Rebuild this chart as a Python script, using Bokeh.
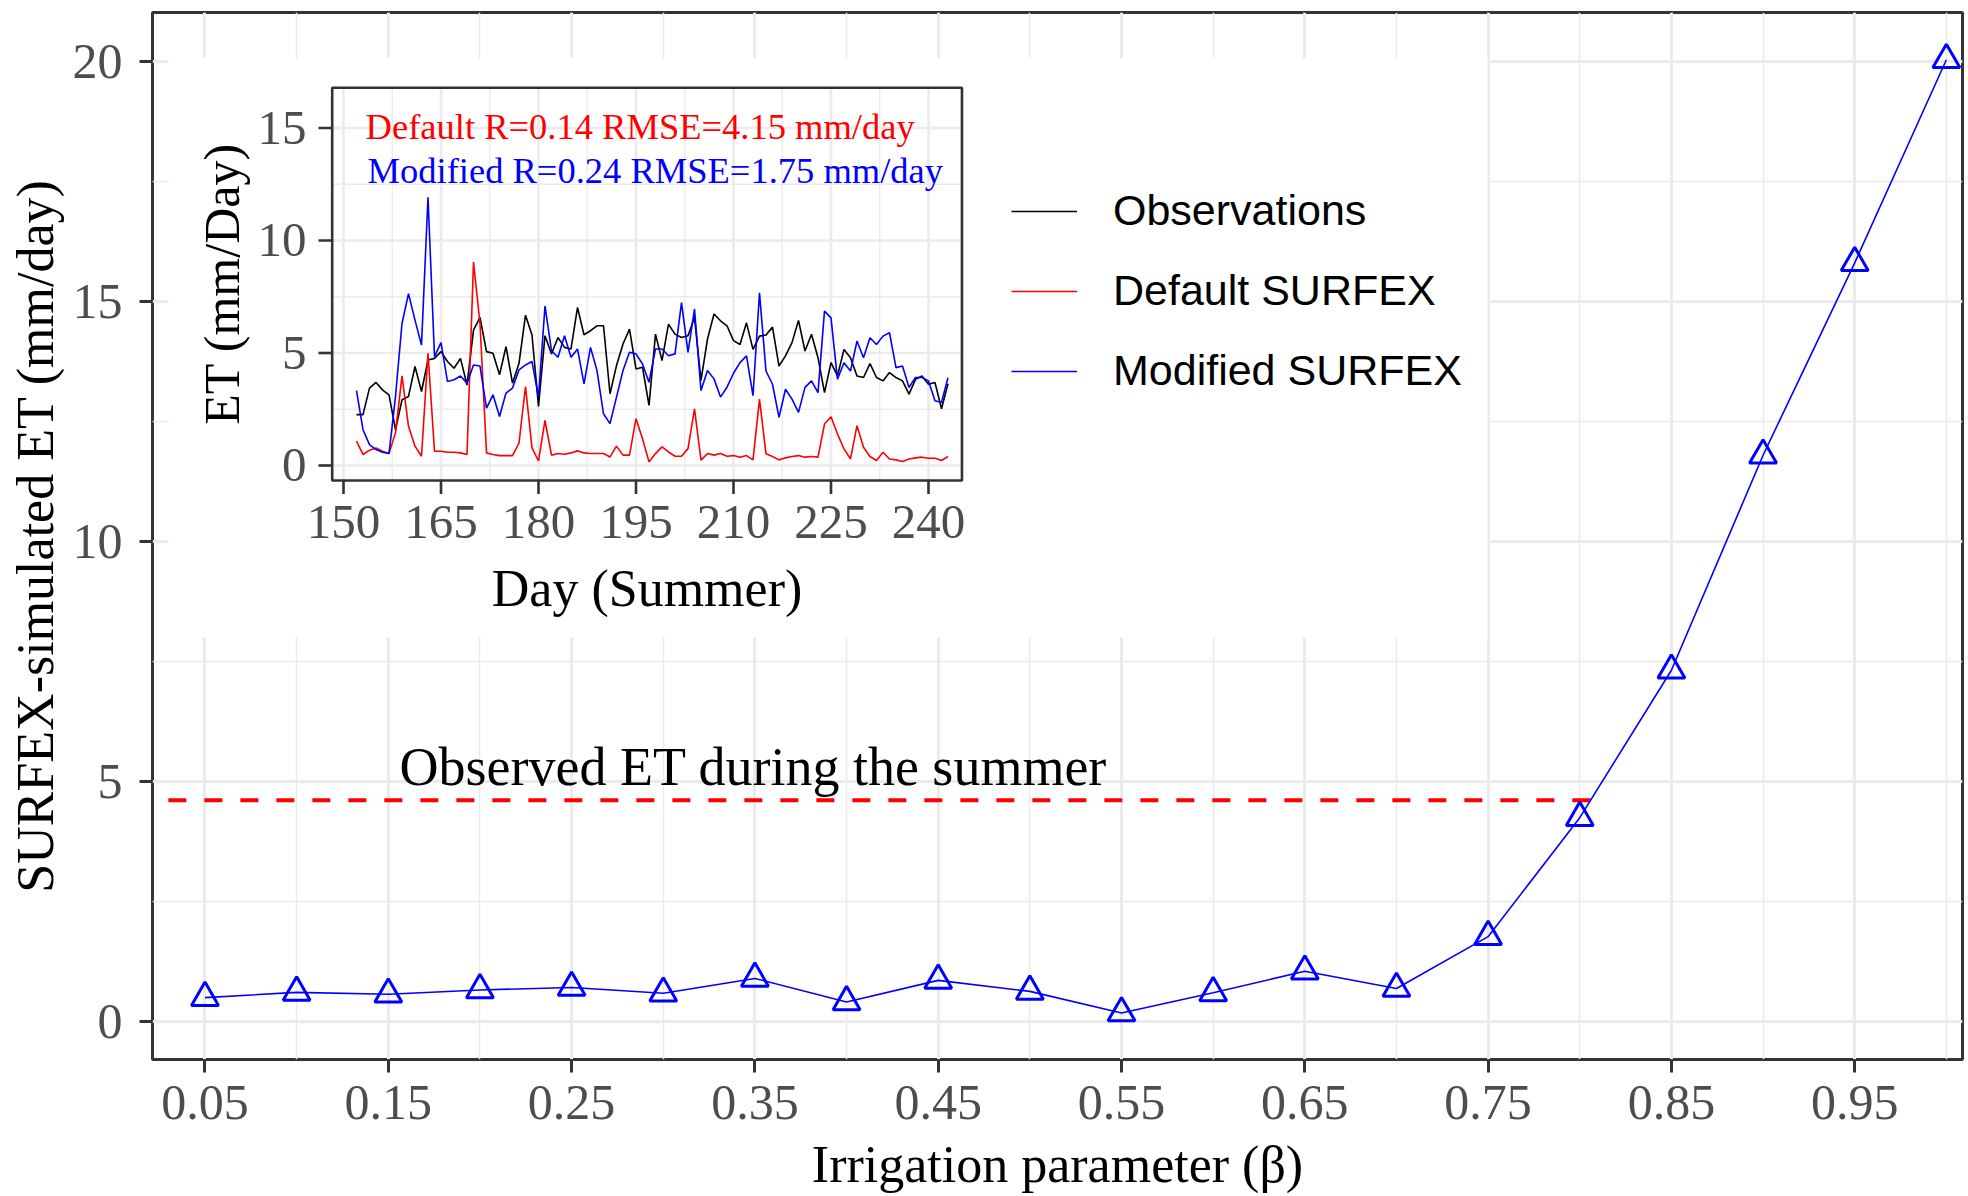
import math
from bokeh.plotting import figure
from bokeh.models import Range1d, FixedTicker, Legend, LegendItem
from bokeh.embed import file_html
from bokeh.resources import INLINE
from bokeh.core.properties import value

# ---------------- main chart data ----------------
beta = [0.05, 0.10, 0.15, 0.20, 0.25, 0.30, 0.35, 0.40, 0.45, 0.50,
        0.55, 0.60, 0.65, 0.70, 0.75, 0.80, 0.85, 0.90, 0.95, 1.00]
et_simulated = [0.49, 0.60, 0.56, 0.65, 0.70, 0.58, 0.89, 0.40, 0.85, 0.62,
                0.17, 0.59, 1.04, 0.68, 1.76, 4.24, 7.31, 11.79, 15.80, 20.03]
observed_summer_et = 4.6
observed_line_beta = [0.03, 0.81]
observed_label = "Observed ET during the summer"

main_xticks = [0.05, 0.15, 0.25, 0.35, 0.45, 0.55, 0.65, 0.75, 0.85, 0.95]
main_xminor = [0.10, 0.20, 0.30, 0.40, 0.50, 0.60, 0.70, 0.80, 0.90, 1.00]
main_yticks = [0, 5, 10, 15, 20]
main_yminor = [2.5, 7.5, 12.5, 17.5]

# ---------------- inset data ----------------
days = list(range(152, 244))
et_obs = [2.26, 2.26, 3.44, 3.69, 3.36, 3.14, 1.59, 2.92, 3.07, 4.40,
          3.29, 4.69, 4.76, 5.06, 4.62, 4.32, 4.76, 3.58, 6.02, 6.58,
          5.06, 4.99, 4.03, 5.28, 3.66, 4.54, 6.68, 5.80, 2.63, 5.77,
          4.96, 5.69, 5.25, 5.18, 7.02, 5.81, 5.99, 6.21, 6.21, 3.19,
          4.44, 5.40, 6.06, 4.29, 4.37, 2.67, 5.84, 4.66, 6.28, 5.84,
          5.69, 5.77, 6.58, 3.78, 5.62, 6.73, 6.43, 6.21, 5.55, 5.38,
          6.34, 5.16, 5.75, 5.80, 6.15, 4.42, 4.87, 5.46, 6.45, 5.09,
          5.83, 4.79, 3.24, 4.57, 3.98, 5.16, 4.79, 3.98, 3.91, 4.53,
          3.91, 3.76, 4.13, 3.91, 3.76, 3.17, 3.83, 3.98, 3.61, 3.69,
          2.52, 3.63]
et_default = [1.08, 0.49, 0.68, 0.78, 0.63, 0.53, 1.45, 3.98, 1.74, 0.86,
              0.41, 4.99, 0.63, 0.63, 0.59, 0.59, 0.56, 0.49, 9.04, 6.31,
              0.56, 0.49, 0.44, 0.44, 0.44, 1.00, 3.51, 0.78, 0.20, 2.00,
              0.46, 0.53, 0.50, 0.56, 0.65, 0.56, 0.53, 0.53, 0.53, 0.38,
              0.86, 0.46, 0.46, 2.08, 1.19, 0.16, 0.53, 0.83, 0.60, 0.41,
              0.41, 0.75, 2.52, 0.24, 0.53, 0.46, 0.53, 0.41, 0.44, 0.37,
              0.44, 0.25, 2.95, 0.52, 0.40, 0.25, 0.34, 0.40, 0.44, 0.37,
              0.40, 0.37, 1.84, 2.17, 1.40, 0.74, 0.29, 1.77, 0.81, 0.40,
              0.22, 0.59, 0.29, 0.25, 0.18, 0.29, 0.34, 0.37, 0.32, 0.32,
              0.22, 0.40]
et_modified = [3.33, 1.59, 0.93, 0.71, 0.59, 0.53, 3.07, 6.31, 7.64, 6.46,
               5.35, 11.92, 4.84, 5.46, 3.73, 3.81, 3.98, 3.66, 4.47, 4.42,
               2.55, 3.14, 2.18, 3.22, 3.44, 4.25, 4.47, 4.62, 3.04, 7.09,
               5.10, 4.81, 5.77, 4.81, 5.18, 3.63, 5.25, 4.22, 2.30, 1.86,
               3.04, 4.22, 5.03, 4.96, 4.51, 3.70, 5.18, 5.18, 4.88, 4.96,
               7.24, 5.03, 6.95, 3.33, 4.22, 3.85, 3.04, 3.48, 4.10, 4.57,
               4.87, 3.10, 7.67, 4.20, 3.61, 2.14, 3.39, 2.95, 2.36, 3.47,
               3.76, 3.24, 6.86, 6.56, 3.83, 4.57, 4.20, 5.53, 4.79, 5.68,
               5.38, 5.75, 5.90, 4.35, 4.42, 3.47, 3.91, 3.91, 3.76, 2.88,
               2.80, 3.90]
series_labels = ["Observations", "Default SURFEX", "Modified SURFEX"]
stats_default = "Default R=0.14 RMSE=4.15 mm/day"
stats_modified = "Modified R=0.24 RMSE=1.75 mm/day"

inset_xticks = [150, 165, 180, 195, 210, 225, 240]
inset_xminor = [157.5, 172.5, 187.5, 202.5, 217.5, 232.5]
inset_yticks = [0, 5, 10, 15]
inset_yminor = [2.5, 7.5, 12.5]

# ---------------- styling ----------------
SERIF = "Liberation Serif"
SANS = "Liberation Sans"
GRID = "#EBEBEB"
DARK = "#333333"
TICKTXT = "#4D4D4D"

p = figure(frame_width=1810, frame_height=1047,
           min_border_left=152, min_border_right=4, min_border_top=12, min_border_bottom=136,
           x_range=Range1d(0.02136, 1.0088), y_range=Range1d(-0.799, 21.015),
           output_backend="svg", toolbar_location=None,
           background_fill_color="white", border_fill_color="white")
# inset coordinate system spread over the same frame
p.extra_x_ranges = {"ix": Range1d(120.615, 399.08)}
p.extra_y_ranges = {"iy": Range1d(-26.40, 20.133)}

p.outline_line_color = DARK
p.outline_line_width = 3

p.xaxis.ticker = FixedTicker(ticks=main_xticks, minor_ticks=main_xminor)
p.yaxis.ticker = FixedTicker(ticks=main_yticks, minor_ticks=main_yminor)
for g in (p.xgrid[0], p.ygrid[0]):
    g.grid_line_color = GRID
    g.grid_line_width = 3
    g.minor_grid_line_color = GRID
    g.minor_grid_line_width = 1.5

for ax in (p.xaxis[0], p.yaxis[0]):
    ax.axis_line_color = None
    ax.major_tick_line_color = DARK
    ax.major_tick_line_width = 3
    ax.major_tick_out = 13
    ax.major_tick_in = 0
    ax.minor_tick_line_color = None
    ax.major_label_text_font = SERIF
    ax.major_label_text_font_size = "50px"
    ax.major_label_text_color = TICKTXT
    ax.axis_label_text_font = SERIF
    ax.axis_label_text_font_size = "52px"
    ax.axis_label_text_font_style = "normal"
    ax.axis_label_text_color = "black"

p.xaxis.axis_label = "Irrigation parameter (\u03b2)"
p.xaxis.major_label_standoff = 13
p.xaxis.axis_label_standoff = 14
p.yaxis.axis_label = "SURFEX-simulated ET (mm/day)"
p.yaxis.major_label_standoff = 17
p.yaxis.axis_label_standoff = 6

# ---------------- main series ----------------
p.line(observed_line_beta, [observed_summer_et] * len(observed_line_beta),
       line_color="red", line_width=4, line_dash="18 18")
p.text(x=[0.1561], y=[5.285], text=[observed_label], text_font=value(SERIF),
       text_font_size="54px", text_color="black", text_align="left",
       text_baseline="middle")
p.line(beta, et_simulated, line_color="blue", line_width=1.6)
p.scatter(beta, et_simulated, marker="triangle", size=27, line_color="blue",
          fill_color=None, line_width=3)

# ---------------- inset ----------------
IR = dict(x_range_name="ix", y_range_name="iy")
# white inset background block
p.quad(left=[123.08], right=[326.0], bottom=[-7.64], top=[18.1],
       fill_color="white", line_color=None, **IR)

box_l, box_r, box_b, box_t = 148.26, 245.15, -0.667, 16.79
# inset grid
p.segment(x0=inset_xminor, x1=inset_xminor, y0=[box_b] * len(inset_xminor),
          y1=[box_t] * len(inset_xminor), line_color=GRID, line_width=1.3, **IR)
p.segment(x0=[box_l] * len(inset_yminor), x1=[box_r] * len(inset_yminor),
          y0=inset_yminor, y1=inset_yminor, line_color=GRID, line_width=1.3, **IR)
p.segment(x0=inset_xticks, x1=inset_xticks, y0=[box_b] * len(inset_xticks),
          y1=[box_t] * len(inset_xticks), line_color=GRID, line_width=2.6, **IR)
p.segment(x0=[box_l] * len(inset_yticks), x1=[box_r] * len(inset_yticks),
          y0=inset_yticks, y1=inset_yticks, line_color=GRID, line_width=2.6, **IR)

r_obs = p.line(days, et_obs, line_color="black", line_width=1.6, **IR)
r_def = p.line(days, et_default, line_color="red", line_width=1.6, **IR)
r_mod = p.line(days, et_modified, line_color="blue", line_width=1.6, **IR)

# inset panel border
p.quad(left=[box_l], right=[box_r], bottom=[box_b], top=[box_t],
       fill_alpha=0, line_color=DARK, line_width=2.6, **IR)
# inset ticks
p.segment(x0=inset_xticks, x1=inset_xticks, y0=[box_b] * len(inset_xticks),
          y1=[-1.267] * len(inset_xticks), line_color=DARK, line_width=2.6, **IR)
p.segment(x0=[146.15] * len(inset_yticks), x1=[box_l] * len(inset_yticks),
          y0=inset_yticks, y1=inset_yticks, line_color=DARK, line_width=2.6, **IR)
# inset tick labels
p.text(x=inset_xticks, y=[-2.49] * len(inset_xticks), text=[str(t) for t in inset_xticks],
       text_font=value(SERIF), text_font_size="49px", text_color=TICKTXT,
       text_align="center", text_baseline="middle", **IR)
p.text(x=[144.31] * len(inset_yticks), y=inset_yticks, text=[str(t) for t in inset_yticks],
       text_font=value(SERIF), text_font_size="49px", text_color=TICKTXT,
       text_align="right", text_baseline="middle", **IR)
# inset axis titles
p.text(x=[196.7], y=[-5.47], text=["Day (Summer)"], text_font=value(SERIF),
       text_font_size="52px", text_color="black", text_align="center",
       text_baseline="middle", **IR)
p.text(x=[131.38], y=[8.07], text=["ET (mm/Day)"], text_font=value(SERIF),
       text_font_size="50px", text_color="black", text_align="center",
       text_baseline="middle", angle=math.pi / 2, **IR)
# inset statistics
p.text(x=[153.4], y=[15.08], text=[stats_default], text_font=value(SERIF),
       text_font_size="36.5px", text_color="red", text_align="left",
       text_baseline="middle", **IR)
p.text(x=[153.7], y=[13.11], text=[stats_modified], text_font=value(SERIF),
       text_font_size="36.5px", text_color="blue", text_align="left",
       text_baseline="middle", **IR)

legend = Legend(items=[LegendItem(label=series_labels[0], renderers=[r_obs]),
                       LegendItem(label=series_labels[1], renderers=[r_def]),
                       LegendItem(label=series_labels[2], renderers=[r_mod])],
                location=(859, 663.5), orientation="vertical",
                glyph_width=66, glyph_height=50, label_height=50,
                label_standoff=36, spacing=30, padding=10, margin=0,
                border_line_color=None, background_fill_alpha=0,
                label_text_font=SANS, label_text_font_size="43px",
                label_text_color="black")
p.add_layout(legend)

open("out.html", "w").write(file_html(p, INLINE))
